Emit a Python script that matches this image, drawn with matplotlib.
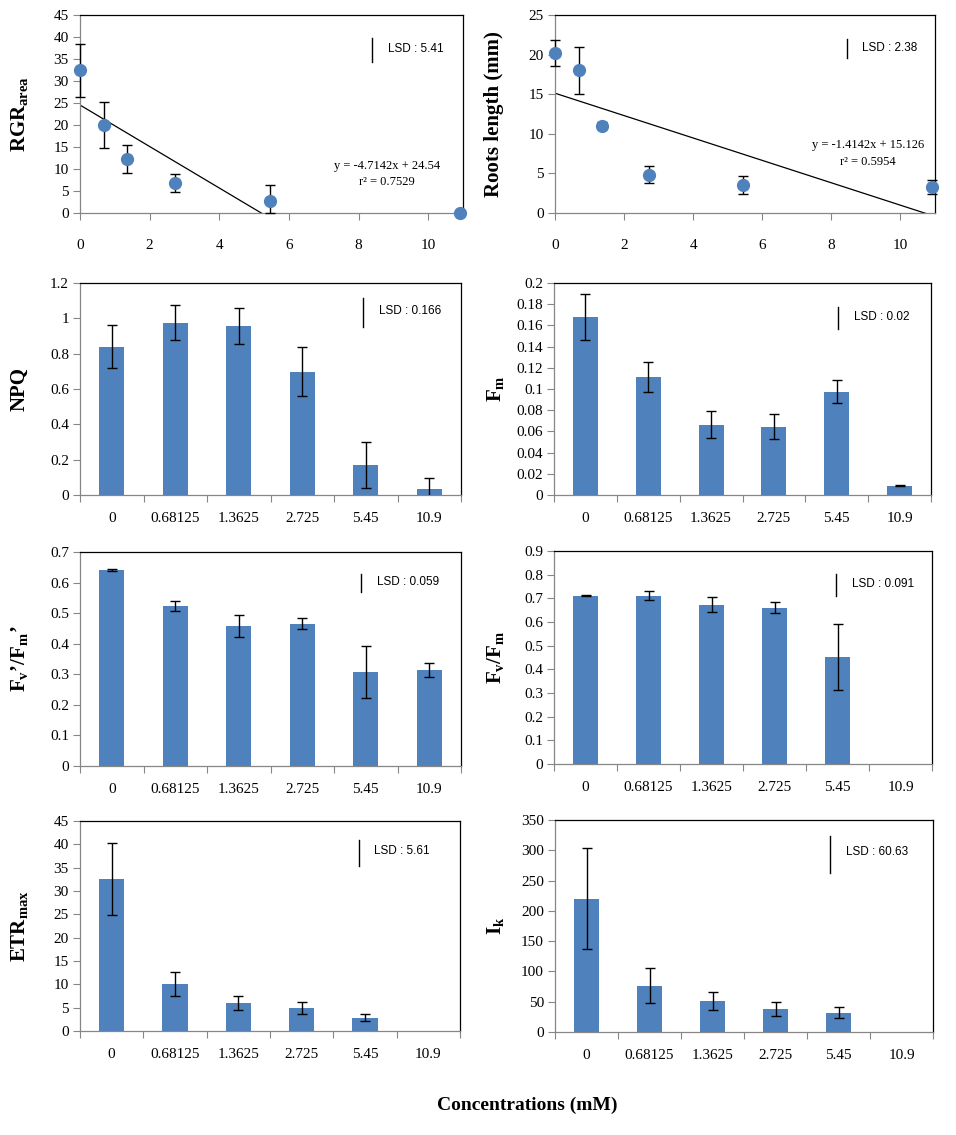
import numpy as np
import matplotlib
matplotlib.use("Agg")
import matplotlib.pyplot as plt

plt.rcParams.update({
    "font.family": ["Liberation Serif", "DejaVu Serif"],
    "mathtext.fontset": "custom",
    "mathtext.rm": "Liberation Serif",
    "mathtext.bf": "Liberation Serif:bold",
    "mathtext.it": "Liberation Serif:italic",
    "font.size": 11,
})

# ---- data ----
conc = [0, 0.68125, 1.3625, 2.725, 5.45, 10.9]
conc_labels = ["0", "0.68125", "1.3625", "2.725", "5.45", "10.9"]

rgr = [32.4, 20.0, 12.35, 6.9, 2.8, 0.0]
rgr_err = [6.0, 5.2, 3.15, 2.05, 3.55, 0.0]
rgr_fit = (-4.7142, 24.54, 0.7529)

roots = [20.2, 18.0, 11.0, 4.85, 3.55, 3.3]
roots_err = [1.7, 3.0, 0.45, 1.1, 1.15, 0.9]
roots_fit = (-1.4142, 15.126, 0.5954)

npq = [0.84, 0.975, 0.957, 0.698, 0.172, 0.036]
npq_err = [0.12, 0.098, 0.10, 0.14, 0.13, 0.06]

fm = [0.168, 0.1115, 0.0664, 0.0645, 0.0975, 0.0088]
fm_err = [0.022, 0.014, 0.013, 0.0118, 0.011, 0.0005]

fvfm_light = [0.642, 0.524, 0.458, 0.465, 0.307, 0.314]
fvfm_light_err = [0.003, 0.016, 0.037, 0.018, 0.084, 0.022]

fvfm = [0.711, 0.711, 0.673, 0.660, 0.453, 0.0]
fvfm_err = [0.003, 0.02, 0.032, 0.023, 0.14, 0.0]

etr = [32.5, 10.1, 6.05, 5.0, 2.85, 0.0]
etr_err = [7.7, 2.65, 1.5, 1.3, 0.75, 0.0]

ik = [220, 76.5, 51.7, 38.5, 31.9, 0.0]
ik_err = [83, 29, 15, 11.5, 9, 0.0]

lsd = {"rgr": 5.41, "roots": 2.38, "npq": 0.166, "fm": 0.02,
       "fvfm_light": 0.059, "fvfm": 0.091, "etr": 5.61, "ik": 60.63}

BLUE = "#4F81BD"
GRAY = "#868686"
W, H = 956, 1135

fig = plt.figure(figsize=(W / 100, H / 100), dpi=100)


def make_ax(l, t, r, b):
    return fig.add_axes([l / W, 1 - b / H, (r - l) / W, (b - t) / H])


def style(ax):
    for s in ("top", "right"):
        ax.spines[s].set_color("black")
    for s in ("left", "bottom"):
        ax.spines[s].set_color(GRAY)
    for s in ax.spines.values():
        s.set_linewidth(0.9)
    ax.tick_params(axis="y", direction="out", length=5, color=GRAY, pad=3, labelsize=11)
    ax.yaxis.set_major_formatter(plt.FuncFormatter(lambda v, p: f"{round(v, 6):g}"))


def ylab(x_px, ax, text):
    pos = ax.get_position()
    fig.text(x_px / W, pos.y0 + pos.height / 2, text, rotation=90, ha="center",
             va="center", fontsize=15, fontweight="bold")


def lsd_mark(ax, x, center, val, tx):
    ax.plot([x, x], [center - val / 2, center + val / 2], color="black", lw=1)
    ax.text(tx, center + val * 0.05, f"LSD : {val:g}", fontsize=8.5,
            family="Liberation Sans", va="center", ha="left")


def scatter_panel(ax, y, err, fit, ymax, ystep, lsd_val, lsd_x, lsd_c, eq_x, eq_y):
    style(ax)
    y = np.array(y)
    err = np.array(err)
    lower = np.minimum(err, y)
    xs = np.linspace(0, 11, 50)
    ax.plot(xs, fit[0] * xs + fit[1], color="black", lw=0.9, zorder=2)
    mask = err > 0
    ax.errorbar(np.array(conc)[mask], y[mask], yerr=[lower[mask], err[mask]], fmt="none",
                ecolor="black", elinewidth=1, capsize=3.5, capthick=1, clip_on=False, zorder=3)
    ax.plot(conc, y, "o", color=BLUE, ms=8.5, clip_on=False, zorder=4)
    ax.set_xlim(0, 11)
    ax.set_ylim(0, ymax)
    ax.set_xticks(np.arange(0, 11, 2))
    ax.set_yticks(np.arange(0, ymax + ystep / 2, ystep))
    ax.tick_params(axis="x", direction="out", length=5, color=GRAY, pad=14, labelsize=11)
    lsd_mark(ax, lsd_x, lsd_c, lsd_val, lsd_x + 0.45)
    ax.text(eq_x, eq_y[0], f"y = {fit[0]:.4f}x + {fit[1]:g}", ha="center", va="center",
            fontsize=9)
    ax.text(eq_x, eq_y[1], f"r\u00b2 = {fit[2]:g}", ha="center", va="center", fontsize=9)


def bar_panel(ax, y, err, ymax, ystep, lsd_val, lsd_x, lsd_c):
    style(ax)
    x = np.arange(len(y))
    y = np.array(y)
    err = np.array(err)
    ax.bar(x, y, width=0.4, color=BLUE, zorder=2)
    mask = err > 0
    ax.errorbar(x[mask], y[mask], yerr=err[mask], fmt="none", ecolor="black",
                elinewidth=1, capsize=3.5, capthick=1, zorder=3)
    ax.set_xlim(-0.5, len(y) - 0.5)
    ax.set_ylim(0, ymax)
    ax.set_yticks(np.arange(0, ymax + ystep / 2, ystep))
    ax.set_xticks(np.arange(-0.5, len(y), 1))
    ax.set_xticklabels([])
    ax.set_xticks(x, minor=True)
    ax.set_xticklabels(conc_labels, minor=True)
    ax.tick_params(axis="x", which="major", direction="out", length=5, color=GRAY)
    ax.tick_params(axis="x", which="minor", length=0, pad=12, labelsize=11)
    lsd_mark(ax, lsd_x, lsd_c, lsd_val, lsd_x + 0.25)


ax1 = make_ax(80, 15, 463, 213)
scatter_panel(ax1, rgr, rgr_err, rgr_fit, 45, 5, lsd["rgr"], 8.4, 37.0, 8.82, (10.6, 7.0))
ylab(20, ax1, r"$\mathbf{RGR}_{\mathbf{area}}$")

ax2 = make_ax(555, 15, 935, 213)
scatter_panel(ax2, roots, roots_err, roots_fit, 25, 5, lsd["roots"], 8.45, 20.75, 9.06, (8.55, 6.5))
ylab(494, ax2, "Roots length (mm)")

ax3 = make_ax(80, 283, 461, 495)
bar_panel(ax3, npq, npq_err, 1.2, 0.2, lsd["npq"], 3.96, 1.034)
ylab(20, ax3, "NPQ")

ax4 = make_ax(554, 283, 931, 495)
bar_panel(ax4, fm, fm_err, 0.2, 0.02, lsd["fm"], 4.02, 0.167)
ylab(495, ax4, r"$\mathbf{F}_{\mathbf{m}}$")

ax5 = make_ax(80, 552, 461, 766)
bar_panel(ax5, fvfm_light, fvfm_light_err, 0.7, 0.1, lsd["fvfm_light"], 3.93, 0.599)
ylab(20, ax5, "$\\mathbf{F}_{\\mathbf{v}}$\u2019/$\\mathbf{F}_{\\mathbf{m}}$\u2019")

ax6 = make_ax(554, 551, 932, 764)
bar_panel(ax6, fvfm, fvfm_err, 0.9, 0.1, lsd["fvfm"], 3.98, 0.757)
ylab(495, ax6, r"$\mathbf{F}_{\mathbf{v}}\mathbf{/F}_{\mathbf{m}}$")

ax7 = make_ax(80, 821, 460, 1031)
bar_panel(ax7, etr, etr_err, 45, 5, lsd["etr"], 3.9, 38.2)
ylab(20, ax7, r"$\mathbf{ETR}_{\mathbf{max}}$")

ax8 = make_ax(555, 820, 933, 1032)
bar_panel(ax8, ik, ik_err, 350, 50, lsd["ik"], 3.87, 293.5)
ylab(495, ax8, r"$\mathbf{I}_{\mathbf{k}}$")

fig.text(527 / W, 1 - 1105 / H, "Concentrations (mM)", ha="center", va="center",
         fontsize=14, fontweight="bold")

fig.savefig("out.png", dpi=100)
